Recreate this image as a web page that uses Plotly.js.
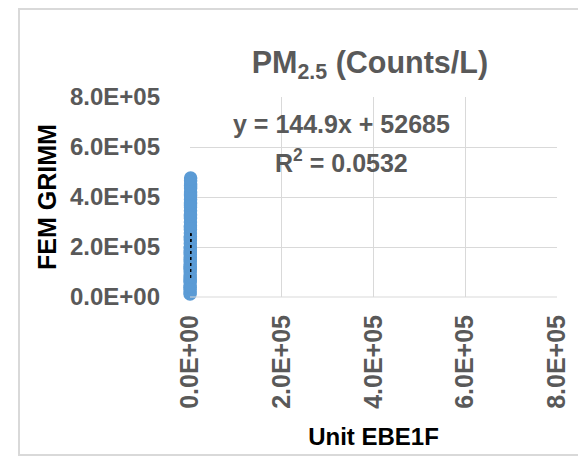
<!DOCTYPE html>
<html>
<head>
<meta charset="utf-8">
<script src="https://cdn.plot.ly/plotly-3.0.1.min.js"></script>
<style>
  html, body { margin: 0; padding: 0; background: #fff; }
  #frame { position: absolute; left: 18px; top: 8px; width: 600px; height: 444px;
           border-left: 2px solid #d9d9d9; border-top: 2px solid #d9d9d9; border-bottom: 2px solid #d9d9d9; }
  #chart { position: absolute; left: 0; top: 0; width: 578px; height: 456px; }
</style>
</head>
<body>
<div id="frame"></div>
<div id="chart"></div>
<script>
// Unit EBE1F readings (x) vs FEM GRIMM readings (y), counts/L
const unitX = [160, 210, 260, 300, 340, 380, 420, 450, 480, 520, 560, 600, 640, 680, 720, 760,
               800, 840, 880, 920, 960, 1000, 1040, 1080, 1120, 1160, 1200, 1240, 1280, 1320, 1360, 1400,
               230, 330, 430, 530, 630, 730, 830, 930, 1030, 1130, 1230, 1330, 170, 270, 370, 470];
const femY  = [12000, 30000, 45000, 60000, 72000, 88000, 100000, 115000, 130000, 142000, 158000, 170000, 185000, 200000, 214000, 228000,
               242000, 256000, 270000, 285000, 300000, 315000, 330000, 345000, 360000, 375000, 390000, 405000, 420000, 435000, 452000, 476000,
               20000, 65000, 110000, 150000, 195000, 235000, 280000, 325000, 368000, 412000, 445000, 465000, 38000, 80000, 122000, 178000];

// Linear trendline reported on the chart
const slope = 144.9;
const intercept = 52685;
const r2 = 0.0532;

const tickVals = [0, 200000, 400000, 600000, 800000];
const tickLabels = ["0.0E+00", "2.0E+05", "4.0E+05", "6.0E+05", "8.0E+05"];

const xMin = Math.min(...unitX), xMax = Math.max(...unitX);
const trendX = [xMin, xMax];
const trendY = trendX.map(v => slope * v + intercept);

const gray = '#595959';
const font = '"Liberation Sans", Arial, sans-serif';

const data = [
  { type: 'scatter', mode: 'markers', x: unitX, y: femY, cliponaxis: false,
    marker: { color: '#5B9BD5', size: 12, line: { color: '#5B9BD5', width: 1.5 } }, hoverinfo: 'skip' },
  { type: 'scatter', mode: 'lines', x: trendX, y: trendY, cliponaxis: false,
    line: { color: '#000000', width: 2.5, dash: 'dot' }, hoverinfo: 'skip' }
];

const layout = {
  width: 578, height: 456,
  margin: { l: 190, r: 21, t: 97, b: 159 },
  paper_bgcolor: 'rgba(0,0,0,0)', plot_bgcolor: 'rgba(0,0,0,0)',
  showlegend: false,
  font: { family: font, color: gray },
  title: { text: 'PM<sub>2.5</sub> (Counts/L)', x: 0.64, xanchor: 'center', y: 0.864, yanchor: 'middle',
           font: { family: font, size: 30.5, color: gray, weight: 'bold' } },
  xaxis: {
    range: [0, 800000], tickvals: tickVals, ticktext: tickLabels, tickangle: -90,
    showgrid: true, gridcolor: '#d9d9d9', gridwidth: 1, zeroline: false,
    showline: false, ticks: '', ticklabelstandoff: 12,
    tickfont: { family: font, size: 25, color: gray, weight: 'bold' },
    title: { text: 'Unit EBE1F', standoff: 20, font: { family: font, size: 24, color: '#000', weight: 'bold' } }
  },
  yaxis: {
    range: [0, 800000], tickvals: tickVals, ticktext: tickLabels,
    showgrid: true, gridcolor: '#d9d9d9', gridwidth: 1, zeroline: false,
    showline: false, ticks: '', ticklabelstandoff: 29,
    tickfont: { family: font, size: 24, color: gray, weight: 'bold' },
    title: { text: 'FEM GRIMM', standoff: 6, font: { family: font, size: 25, color: '#000', weight: 'bold' } }
  },
  shapes: [
    { type: 'line', xref: 'paper', yref: 'paper', x0: 0, x1: 1, y0: 0, y1: 0, line: { color: '#d9d9d9', width: 1 } }
  ],
  annotations: [
    { xref: 'paper', yref: 'paper', x: 0.413, y: 0.865, xanchor: 'center', yanchor: 'middle', showarrow: false,
      text: 'y = ' + slope + 'x + ' + intercept, font: { family: font, size: 25, color: gray, weight: 'bold' } },
    { xref: 'paper', yref: 'paper', x: 0.413, y: 0.68, xanchor: 'center', yanchor: 'middle', showarrow: false,
      text: 'R<sup>2</sup> = ' + r2, font: { family: font, size: 25, color: gray, weight: 'bold' } }
  ]
};

Plotly.newPlot('chart', data, layout, { displayModeBar: false, staticPlot: true });
</script>
</body>
</html>
